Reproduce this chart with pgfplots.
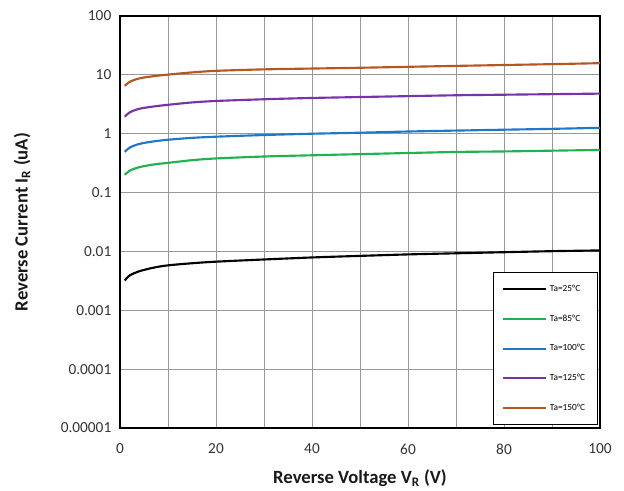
\documentclass[border=0pt]{standalone}
\usepackage{pgfplots}
\pgfplotsset{compat=1.18}
\usepackage{fontspec}
\setmainfont{Carlito}
\definecolor{c25}{RGB}{0,0,0}
\definecolor{c85}{RGB}{30,178,80}
\definecolor{c100}{RGB}{30,120,200}
\definecolor{c125}{RGB}{120,50,170}
\definecolor{c150}{RGB}{185,85,30}
\begin{document}
\begin{tikzpicture}
\path[use as bounding box] (-90pt,-47.25pt) rectangle (378pt,321pt);
\begin{axis}[
  scale only axis,
  width=360pt, height=309pt,
  xmin=0, xmax=100, ymin=1e-5, ymax=100,
  ymode=log,
  log basis y=10,
  xtick={0,10,...,100},
  xticklabels={0,,20,,40,,60,,80,,100},
  ytick={1e-5,1e-4,1e-3,1e-2,1e-1,1,10,100},
  yticklabels={0.00001,0.0001,0.001,0.01,0.1,1,10,100},
  /pgf/number format/assume math mode=true,
  tick label style={font=\fontsize{11.5}{13}\selectfont, color=black!80},
  xticklabel style={yshift=-8.5pt},
  yticklabel style={xshift=-3pt},
  xmajorgrids, ymajorgrids, yminorgrids,
  major grid style={gray!80, line width=0.6pt},
  minor grid style={gray!25, line width=0.4pt},
  tick style={draw=none},
  axis line style={black, line width=1pt},
  xlabel={\textbf{Reverse Voltage V\textsubscript{R} (V)}},
  ylabel={\textbf{Reverse Current I\textsubscript{R} (uA)}},
  label style={font=\fontsize{14}{16}\selectfont, color=black!90},
  xlabel style={at={(axis description cs:0.5,-0.121)}, anchor=center},
  ylabel style={at={(axis description cs:-0.204,0.5)}, anchor=center},
  legend style={at={(0.995,0.008)}, anchor=south east, draw=black, line width=0.8pt,
    font=\fontsize{7}{8}\selectfont, row sep=12pt, inner sep=7pt, fill=white},
  legend cell align=left,
  legend image code/.code={\draw[#1, line width=1.5pt] (0pt,0pt) -- (32pt,0pt);},
  every axis plot/.append style={line width=1.6pt, smooth},
]
\addplot[c25] coordinates {(1,0.0032) (2,0.0039) (4,0.0046) (7,0.0053) (10,0.0058) (15,0.0063) (20,0.0067) (30,0.0073) (40,0.0079) (50,0.0084) (60,0.0089) (70,0.0093) (80,0.0097) (90,0.0101) (100,0.0104)};
\addlegendentry{Ta=25\textdegree C}
\addplot[c85] coordinates {(1,0.20) (2,0.235) (4,0.27) (7,0.30) (10,0.32) (15,0.355) (20,0.38) (30,0.41) (40,0.43) (50,0.45) (60,0.47) (70,0.49) (80,0.50) (90,0.515) (100,0.53)};
\addlegendentry{Ta=85\textdegree C}
\addplot[c100] coordinates {(1,0.49) (2,0.58) (4,0.67) (7,0.74) (10,0.79) (15,0.85) (20,0.89) (30,0.95) (40,1.0) (50,1.04) (60,1.09) (70,1.13) (80,1.17) (90,1.21) (100,1.26)};
\addlegendentry{Ta=100\textdegree C}
\addplot[c125] coordinates {(1,1.95) (2,2.3) (4,2.65) (7,2.9) (10,3.1) (15,3.4) (20,3.6) (30,3.85) (40,4.05) (50,4.2) (60,4.35) (70,4.5) (80,4.6) (90,4.7) (100,4.8)};
\addlegendentry{Ta=125\textdegree C}
\addplot[c150] coordinates {(1,6.5) (2,7.6) (4,8.7) (7,9.5) (10,10.1) (15,11.0) (20,11.7) (30,12.4) (40,12.8) (50,13.2) (60,13.7) (70,14.2) (80,14.7) (90,15.2) (100,15.8)};
\addlegendentry{Ta=150\textdegree C}
\end{axis}
\end{tikzpicture}
\end{document}
